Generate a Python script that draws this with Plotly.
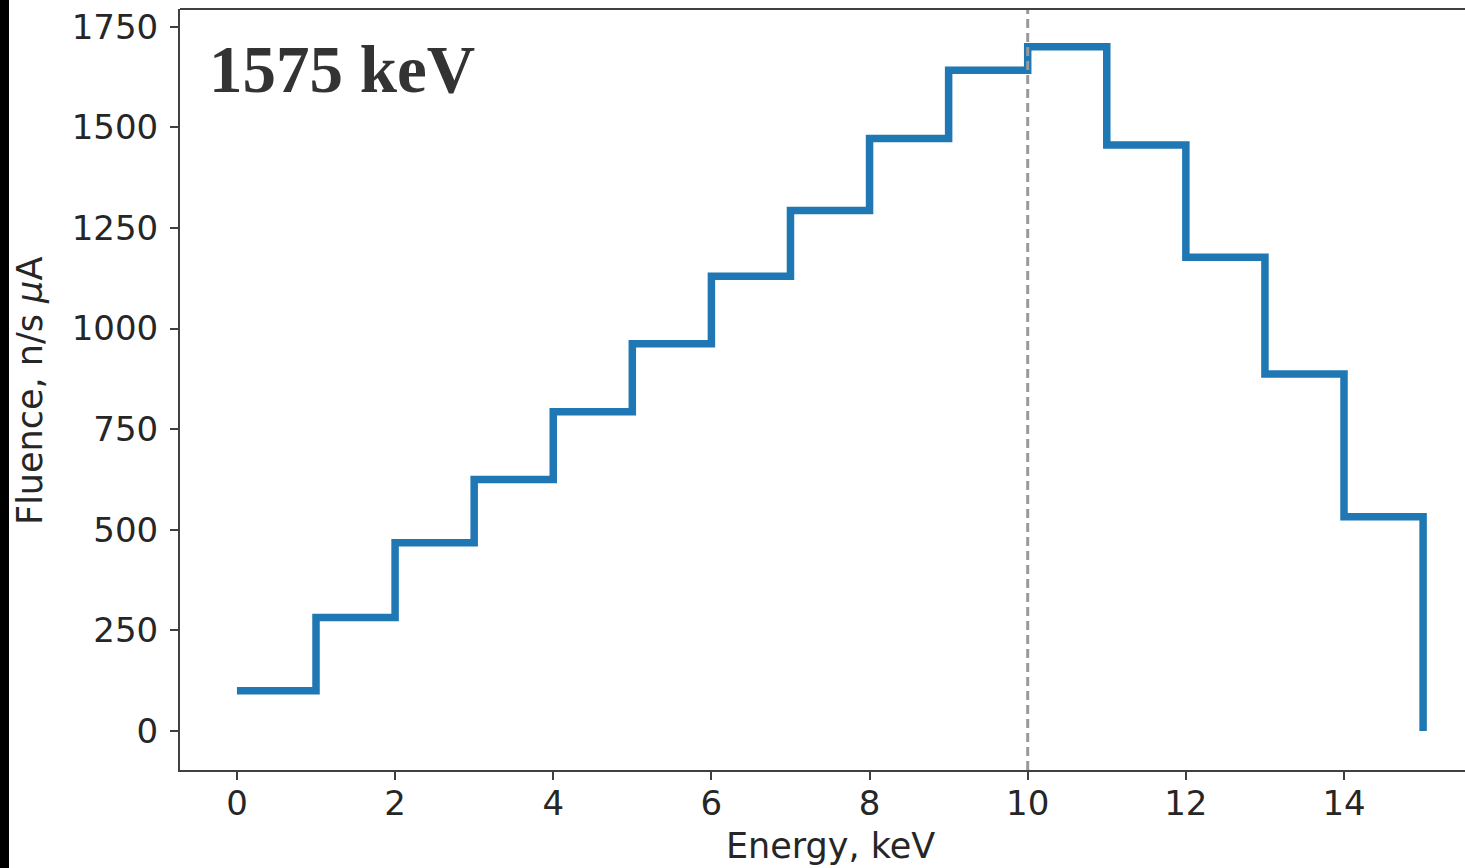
import plotly.graph_objects as go

# Neutron fluence spectrum, 1 keV bins (left edges), final point closes the step to zero
energy_kev = [0, 1, 2, 3, 4, 5, 6, 7, 8, 9, 10, 11, 12, 13, 14, 15]
fluence = [100, 282, 468, 625, 793, 962, 1130, 1293, 1472, 1642, 1700, 1456, 1177, 887, 532, 0]
marker_energy = 10
beam_label = "1575 keV"

x_ticks = [0, 2, 4, 6, 8, 10, 12, 14]
y_ticks = [0, 250, 500, 750, 1000, 1250, 1500, 1750]

W, H = 1465, 868
ML, MR, MT, MB = 180, 0, 9, 98
pw, ph = W - ML - MR, H - MT - MB

def px_x(p):
    return (p - ML) / pw

def px_y(p):
    return 1 - (p - MT) / ph

fig = go.Figure()
fig.add_trace(go.Scatter(
    x=energy_kev, y=fluence, mode="lines", line_shape="hv",
    line=dict(color="#1f77b4", width=7.5), hoverinfo="skip", showlegend=False,
))

tick_font = dict(family="DejaVu Sans", size=34, color="#262626")
axis_common = dict(
    showgrid=False, zeroline=False, showline=True, linecolor="#404040", linewidth=2,
    ticks="outside", ticklen=8, tickwidth=1.5, tickcolor="#404040", tickfont=tick_font,
)

fig.update_layout(
    width=W, height=H,
    margin=dict(l=ML, r=MR, t=MT, b=MB),
    paper_bgcolor="white", plot_bgcolor="white",
    xaxis=dict(range=[-0.72, 15.53], tickvals=x_ticks, ticklabelstandoff=-6, **axis_common),
    yaxis=dict(range=[-97, 1794], tickvals=y_ticks, ticklabelstandoff=5, **axis_common),
    shapes=[
        # dashed marker at 10 keV
        dict(type="line", xref="x", yref="paper", x0=marker_energy, x1=marker_energy, y0=0, y1=1,
             line=dict(color="#999999", width=3, dash="9px,5px"), layer="above"),
        # top frame edge
        dict(type="line", xref="paper", yref="paper", x0=0, x1=1, y0=1, y1=1,
             line=dict(color="#404040", width=2)),
        # dark strip on the left edge of the page
        dict(type="rect", xref="paper", yref="paper", x0=px_x(0), x1=px_x(9),
             y0=px_y(H + 2), y1=px_y(-2), fillcolor="black", line=dict(width=0)),
    ],
    annotations=[
        dict(text="<b>" + beam_label + "</b>", xref="paper", yref="paper",
             x=px_x(207), y=px_y(69), xanchor="left", yanchor="middle", showarrow=False,
             font=dict(family="Liberation Serif", size=67, color="#333333")),
        dict(text="Energy, keV", xref="paper", yref="paper",
             x=px_x(830), y=px_y(846), xanchor="center", yanchor="middle", showarrow=False,
             font=dict(family="DejaVu Sans", size=35, color="#262626")),
        dict(text="Fluence, n/s <i>μ</i>A", xref="paper", yref="paper",
             x=px_x(30), y=px_y(391), xanchor="center", yanchor="middle", showarrow=False,
             textangle=-90, font=dict(family="DejaVu Sans", size=35, color="#262626")),
    ],
)

fig.write_html("out.html")
